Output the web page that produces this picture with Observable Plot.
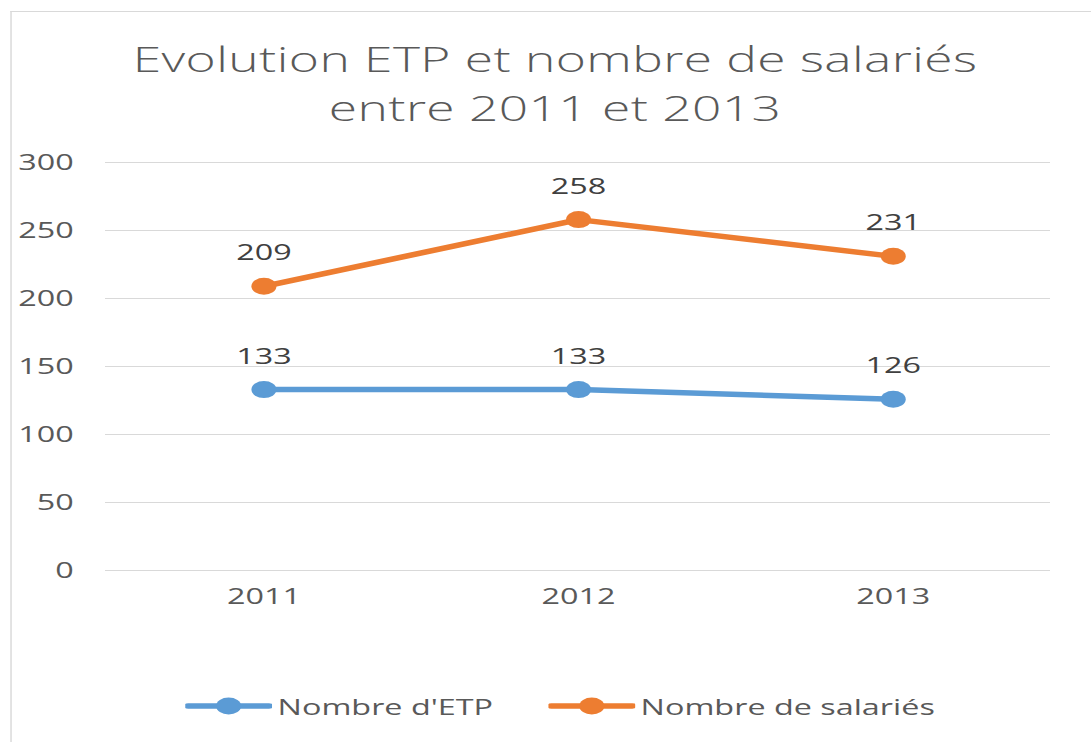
<!DOCTYPE html>
<html>
<head>
<meta charset="utf-8">
<script src="https://cdn.jsdelivr.net/npm/d3@7"></script>
<script src="https://cdn.jsdelivr.net/npm/@observablehq/plot@0.6"></script>
<style>
  html, body { margin: 0; padding: 0; background: #fff; overflow: hidden; }
  body { width: 1091px; height: 742px; position: relative; }
  #stage { position: absolute; left: 0; top: 0; width: 742px; height: 742px;
           transform: scaleX(1.47035); transform-origin: 0 0;
           font-family: "Open Sans", sans-serif; color: #595959; }
  #frame { position: absolute; left: 6.8px; top: 11px; width: 760px; height: 760px;
           border-left: 1px solid #d9d9d9; border-top: 1px solid #d9d9d9; }
  .title { position: absolute; left: 0; width: 755px; text-align: center;
           font-size: 35px; line-height: 35px; font-weight: 300; letter-spacing: 0.3px;
           color: #595959; white-space: nowrap; }
  #chart { position: absolute; left: 0; top: 130px; }
  .leg { position: absolute; top: 694px; height: 24px; display: flex; align-items: center;
         font-size: 22px; line-height: 24px; color: #595959; white-space: nowrap; }
  .leg svg { display: block; margin-right: 4px; }
</style>
</head>
<body>
<div id="stage">
  <div id="frame"></div>
  <div class="title" style="top:41px">Evolution ETP et nombre de salariés</div>
  <div class="title" style="top:90px">entre 2011 et 2013</div>
  <div id="chart"></div>
  <div id="legend"></div>
</div>
<script>
const years = ["2011", "2012", "2013"];
const etp = [133, 133, 126];
const salaries = [209, 258, 231];
const seriesNames = ["Nombre d'ETP", "Nombre de salariés"];
const seriesColors = ["#5b9bd5", "#ed7d31"];
const yTicks = [0, 50, 100, 150, 200, 250, 300];

const data = years.flatMap((y, i) => [
  {year: y, value: etp[i], series: seriesNames[0]},
  {year: y, value: salaries[i], series: seriesNames[1]}
]);

const chart = Plot.plot({
  width: 742,
  height: 490,
  marginTop: 32,
  marginBottom: 50,
  marginLeft: 71.4,
  marginRight: 27.9,
  style: {fontFamily: "'Open Sans', sans-serif", fontSize: "22px", color: "#595959", background: "transparent", overflow: "visible"},
  x: {type: "point", domain: years, padding: 0.5, label: null},
  y: {domain: [0, 300], label: null},
  color: {domain: seriesNames, range: seriesColors},
  marks: [
    Plot.gridY(yTicks, {stroke: "#d9d9d9", strokeOpacity: 1, strokeWidth: 1}),
    Plot.axisY(yTicks, {tickSize: 0, tickPadding: 21.8, fontSize: 22, label: null}),
    Plot.axisX({tickSize: 0, tickPadding: 18, fontSize: 22, label: null}),
    Plot.line(data, {x: "year", y: "value", stroke: "series", strokeWidth: 5.5}),
    Plot.dot(data, {x: "year", y: "value", fill: "series", r: 8.5, stroke: "none"}),
    Plot.text(data, {x: "year", y: "value", text: d => String(d.value), dy: -26,
                     lineAnchor: "bottom", fill: "#404040", fontSize: 22})
  ]
});
document.getElementById("chart").appendChild(chart);

// legend
const legendLefts = [125.8, 372.7];
const legend = document.getElementById("legend");
seriesNames.forEach((name, i) => {
  const item = document.createElement("div");
  item.className = "leg";
  item.style.left = legendLefts[i] + "px";
  const ns = "http://www.w3.org/2000/svg";
  const svg = document.createElementNS(ns, "svg");
  svg.setAttribute("width", 59);
  svg.setAttribute("height", 20);
  const line = document.createElementNS(ns, "line");
  line.setAttribute("x1", 2); line.setAttribute("x2", 57);
  line.setAttribute("y1", 10); line.setAttribute("y2", 10);
  line.setAttribute("stroke", seriesColors[i]);
  line.setAttribute("stroke-width", 5.5);
  line.setAttribute("stroke-linecap", "round");
  const c = document.createElementNS(ns, "circle");
  c.setAttribute("cx", 29.5); c.setAttribute("cy", 10); c.setAttribute("r", 8.5);
  c.setAttribute("fill", seriesColors[i]);
  svg.appendChild(line); svg.appendChild(c);
  const span = document.createElement("span");
  span.textContent = name;
  item.appendChild(svg); item.appendChild(span);
  legend.appendChild(item);
});
</script>
</body>
</html>
